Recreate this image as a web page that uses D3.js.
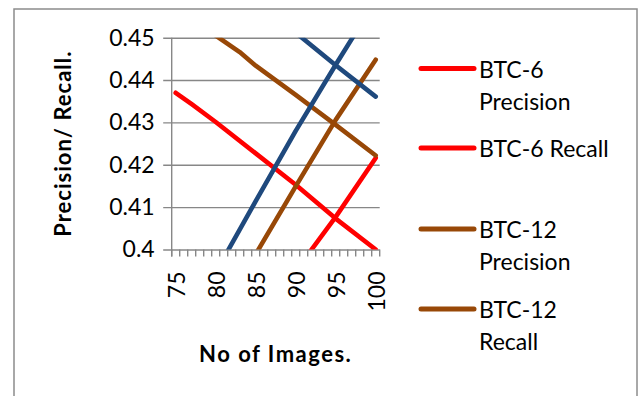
<!DOCTYPE html>
<html>
<head>
<meta charset="utf-8">
<script src="https://cdn.jsdelivr.net/npm/d3@7"></script>
<style>
  html, body { margin: 0; padding: 0; background: #fff; }
  svg { display: block; font-family: Lato, "Open Sans", sans-serif; }
</style>
</head>
<body>
<svg id="chart" width="639" height="396"></svg>
<script>
// Number of images (category axis, one tick per image count)
const imageCounts = [75, 76, 77, 78, 79, 80, 81, 82, 83, 84, 85, 86, 87, 88, 89,
                     90, 91, 92, 93, 94, 95, 96, 97, 98, 99, 100];
const xTickLabels = [75, 80, 85, 90, 95, 100];
const yTickValues = [0.4, 0.41, 0.42, 0.43, 0.44, 0.45];

// Series as [image count, value] pairs
const btc6Precision  = [[75, 0.437], [77, 0.4343], [80, 0.4301], [85, 0.4227], [90, 0.4153], [95, 0.4073], [100, 0.400]];
const btc6Recall     = [[90, 0.3949], [95, 0.4077], [100, 0.4216]];
const btc12Precision = [[80, 0.4505], [83, 0.4466], [85, 0.4434], [90, 0.4365], [95, 0.4294], [100, 0.4222]];
const btc12Recall    = [[85, 0.3989], [90, 0.4149], [95, 0.4306], [100, 0.4448]];
const series5        = [[80, 0.3946], [85, 0.4114], [90, 0.4280], [95, 0.4436], [100, 0.4588]];
const series6        = [[90, 0.4512], [95, 0.4435], [100, 0.4361]];

const seriesNames  = ["BTC-6 Precision", "BTC-6 Recall", "BTC-12 Precision", "BTC-12 Recall", "Series5", "Series6"];
const seriesData   = [btc6Precision, btc6Recall, btc12Precision, btc12Recall, series5, series6];
const seriesColors = ["#ff0000", "#ff0000", "#984807", "#984807", "#1f497d", "#1f497d"];
// Legend rows: wrapped label lines for the entries shown
const legendLines = [["BTC-6", "Precision"], ["BTC-6 Recall"], ["BTC-12", "Precision"], ["BTC-12", "Recall"]];

const svg = d3.select("#chart");
const gridColor = "#878787";

// Outer chart frame
svg.append("rect")
  .attr("x", 14).attr("y", 9).attr("width", 623).attr("height", 400)
  .attr("fill", "none").attr("stroke", "#8c8c8c").attr("stroke-width", 1.5);

const plot = { left: 171.7, right: 379.7, top: 37.7, bottom: 249.5 };

const xBand = d3.scaleBand().domain(imageCounts).range([plot.left, plot.right]).paddingInner(0).paddingOuter(0);
const x = v => xBand(v) + xBand.bandwidth() / 2;
const y = d3.scaleLinear().domain([0.4, 0.45]).range([plot.bottom, plot.top]);

// Horizontal gridlines with outside tick marks on the value axis
const yAxis = d3.axisLeft(y).tickValues(yTickValues)
  .tickSize(-(plot.right - plot.left)).tickPadding(17)
  .tickFormat(d => d3.format("")(+d.toFixed(2)));
const yG = svg.append("g").attr("transform", `translate(${plot.left},0)`).call(yAxis);
yG.select(".domain").remove();
yG.selectAll(".tick line").attr("stroke", gridColor).attr("stroke-width", 1.4)
  .attr("x1", -8.5);
yG.selectAll(".tick text").attr("font-size", 23).attr("fill", "#000")
  .attr("font-family", "Lato, sans-serif");

// Vertical value axis line
svg.append("line")
  .attr("x1", plot.left).attr("x2", plot.left)
  .attr("y1", plot.top).attr("y2", plot.bottom + 7)
  .attr("stroke", gridColor).attr("stroke-width", 1.4);

// Category axis: tick marks at band boundaries
const boundaries = imageCounts.map(v => xBand(v)).concat([plot.right]);
svg.append("g").selectAll("line").data(boundaries).join("line")
  .attr("x1", d => d).attr("x2", d => d)
  .attr("y1", plot.bottom).attr("y2", plot.bottom + 7)
  .attr("stroke", gridColor).attr("stroke-width", 1.4);

// Category labels, rotated
svg.append("g").selectAll("text").data(xTickLabels).join("text")
  .attr("transform", d => `translate(${x(d)},${plot.bottom + 22}) rotate(-90)`)
  .attr("text-anchor", "end").attr("dominant-baseline", "central")
  .attr("font-size", 23).attr("fill", "#000")
  .text(d => d);

// Series lines, clipped to the plot area
svg.append("defs").append("clipPath").attr("id", "plotClip")
  .append("rect").attr("x", plot.left - 5).attr("y", plot.top)
  .attr("width", plot.right - plot.left + 10).attr("height", plot.bottom - plot.top);

const line = d3.line().x(d => x(d[0])).y(d => y(d[1]));
svg.append("g").attr("clip-path", "url(#plotClip)")
  .selectAll("path").data(seriesData).join("path")
  .attr("d", line)
  .attr("fill", "none")
  .attr("stroke", (d, i) => seriesColors[i])
  .attr("stroke-width", 4.6)
  .attr("stroke-linecap", "round")
  .attr("stroke-linejoin", "round");

// Axis titles
svg.append("text")
  .attr("transform", `translate(62,${(plot.top + plot.bottom) / 2}) rotate(-90)`)
  .attr("text-anchor", "middle").attr("dominant-baseline", "central")
  .attr("font-size", 22).attr("font-weight", "bold").attr("fill", "#000")
  .attr("letter-spacing", 1)
  .text("Precision/ Recall.");

svg.append("text")
  .attr("x", (plot.left + plot.right) / 2).attr("y", 353)
  .attr("text-anchor", "middle").attr("dominant-baseline", "central")
  .attr("font-size", 22).attr("font-weight", "bold").attr("fill", "#000")
  .attr("letter-spacing", 1.5)
  .text("No of Images.");

// Legend
const legendRowY = [68.5, 148, 229, 309];
const legend = svg.append("g");
legendLines.forEach((lines, i) => {
  legend.append("line")
    .attr("x1", 421).attr("x2", 474)
    .attr("y1", legendRowY[i]).attr("y2", legendRowY[i])
    .attr("stroke", seriesColors[i]).attr("stroke-width", 5)
    .attr("stroke-linecap", "round");
  const t = legend.append("text")
    .attr("x", 479).attr("y", legendRowY[i])
    .attr("dominant-baseline", "central")
    .attr("font-size", 23).attr("fill", "#000");
  lines.forEach((s, k) => {
    t.append("tspan").attr("x", 479).attr("dy", k === 0 ? 0 : 32).text(s);
  });
});
</script>
</body>
</html>
